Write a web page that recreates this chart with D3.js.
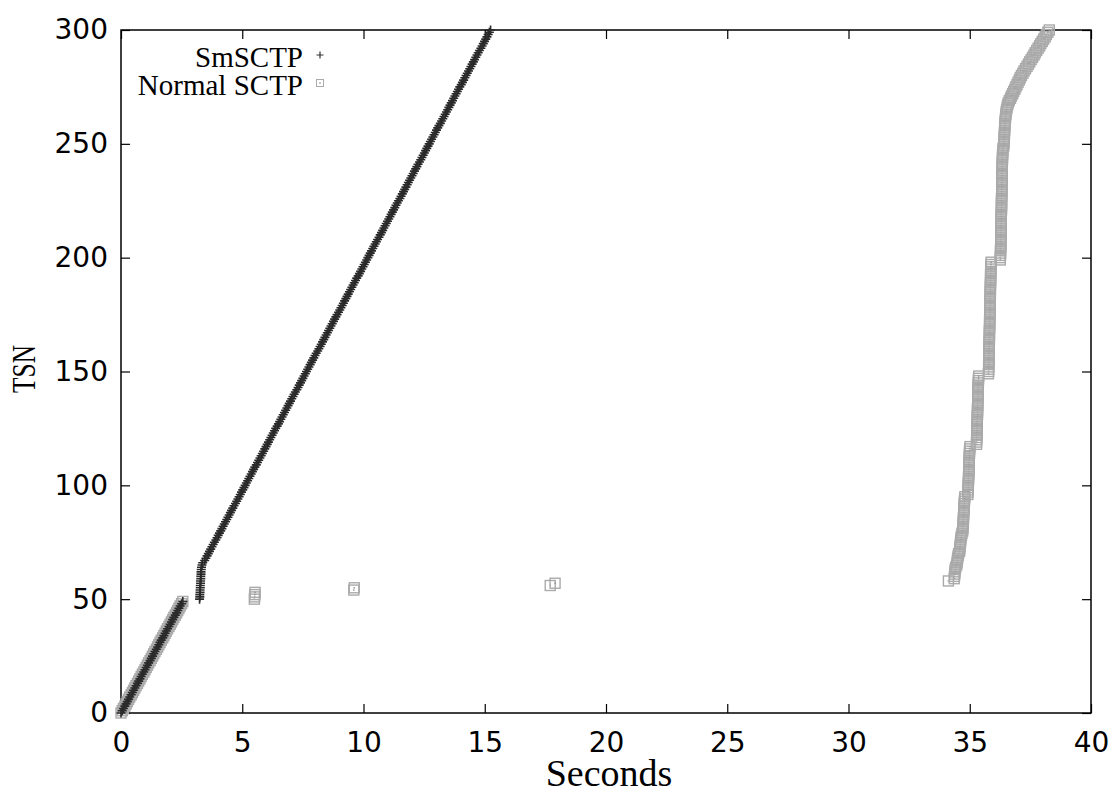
<!DOCTYPE html>
<html>
<head>
<meta charset="utf-8">
<script src="https://cdn.jsdelivr.net/npm/d3@7"></script>
<style>
  body { margin: 0; background: #fff; }
  svg { display: block; }
  .tick text { font-family: "DejaVu Sans", sans-serif; font-size: 28px; fill: #000; }
  .tick line { stroke: #000; stroke-width: 1.2; }
</style>
</head>
<body>
<div class="wrapper"></div>
<script>
// tick labels
var secondsTicks = [0, 5, 10, 15, 20, 25, 30, 35, 40];
var tsnTicks = [0, 50, 100, 150, 200, 250, 300];
var seriesNames = ["SmSCTP", "Normal SCTP"];

// send time (s) of each TSN, array index = TSN
var smTime = [
  0.00,0.05,0.10,0.16,0.21,0.26,0.31,0.36,0.42,0.47,
  0.52,0.57,0.62,0.68,0.73,0.78,0.83,0.88,0.94,0.99,
  1.04,1.09,1.14,1.20,1.25,1.30,1.35,1.40,1.46,1.51,
  1.56,1.61,1.66,1.72,1.77,1.82,1.87,1.92,1.98,2.03,
  2.08,2.13,2.18,2.24,2.29,2.34,2.39,2.44,2.50,2.55,
  3.24,3.25,3.25,3.26,3.26,3.27,3.27,3.28,3.28,3.29,
  3.29,3.30,3.30,3.31,3.32,3.34,3.37,
  3.45,3.50,3.55,3.60,3.65,3.70,3.75,3.80,3.85,3.91,
  3.96,4.01,4.06,4.11,4.16,4.21,4.26,4.31,4.36,4.41,
  4.46,4.51,4.56,4.61,4.66,4.72,4.77,4.82,4.87,4.92,
  4.97,5.02,5.07,5.12,5.17,5.22,5.27,5.32,5.37,5.42,
  5.47,5.52,5.58,5.63,5.68,5.73,5.78,5.83,5.88,5.93,
  5.98,6.03,6.08,6.13,6.18,6.23,6.28,6.33,6.38,6.44,
  6.49,6.54,6.59,6.64,6.69,6.74,6.79,6.84,6.89,6.94,
  6.99,7.04,7.09,7.14,7.19,7.25,7.30,7.35,7.40,7.45,
  7.50,7.55,7.60,7.65,7.70,7.75,7.80,7.85,7.90,7.95,
  8.00,8.05,8.11,8.16,8.21,8.26,8.31,8.36,8.41,8.46,
  8.51,8.56,8.61,8.66,8.71,8.76,8.81,8.86,8.91,8.97,
  9.02,9.07,9.12,9.17,9.22,9.27,9.32,9.37,9.42,9.47,
  9.52,9.57,9.62,9.67,9.72,9.78,9.83,9.88,9.93,9.98,
  10.03,10.08,10.13,10.18,10.23,10.28,10.33,10.38,10.43,10.48,
  10.53,10.58,10.64,10.69,10.74,10.79,10.84,10.89,10.94,10.99,
  11.04,11.09,11.14,11.19,11.24,11.29,11.34,11.39,11.44,11.50,
  11.55,11.60,11.65,11.70,11.75,11.80,11.85,11.90,11.95,12.00,
  12.05,12.10,12.15,12.20,12.25,12.31,12.36,12.41,12.46,12.51,
  12.56,12.61,12.66,12.71,12.76,12.81,12.86,12.91,12.96,13.01,
  13.06,13.11,13.17,13.22,13.27,13.32,13.37,13.42,13.47,13.52,
  13.57,13.62,13.67,13.72,13.77,13.82,13.87,13.92,13.97,14.03,
  14.08,14.13,14.18,14.23,14.28,14.33,14.38,14.43,14.48,14.53,
  14.58,14.63,14.68,14.73,14.78,14.84,14.89,14.94,14.99,15.04,
  15.09,15.14,15.19,15.24
];

var normalTime = [
  0.00,0.05,0.10,0.16,0.21,0.26,0.31,0.36,0.42,0.47,
  0.52,0.57,0.62,0.68,0.73,0.78,0.83,0.88,0.94,0.99,
  1.04,1.09,1.14,1.20,1.25,1.30,1.35,1.40,1.46,1.51,
  1.56,1.61,1.66,1.72,1.77,1.82,1.87,1.92,1.98,2.03,
  2.08,2.13,2.18,2.24,2.29,2.34,2.39,2.44,2.50,2.55,
  5.50,5.51,5.52,5.53,
  9.60,9.62,
  17.70,17.90,
  34.12,
  34.36,34.37,34.38,34.39,34.40,34.42,
  34.46,34.48,34.49,34.50,34.52,34.54,
  34.58,34.59,34.60,34.61,34.62,34.63,34.64,34.66,34.68,
  34.71,34.72,34.72,34.73,34.73,34.74,34.74,34.75,34.75,34.76,
  34.76,34.77,34.77,34.78,34.79,34.80,
  34.92,34.93,34.93,34.94,34.94,34.94,34.95,34.95,34.95,34.96,
  34.96,34.96,34.97,34.97,34.97,34.98,34.98,34.98,34.99,34.99,
  35.00,35.01,
  35.28,35.28,35.29,35.29,35.29,35.30,35.30,35.30,35.30,35.31,
  35.31,35.31,35.31,35.32,35.32,35.32,35.32,35.33,35.33,35.33,
  35.33,35.34,35.34,35.34,35.34,35.35,35.35,35.35,35.36,35.36,
  35.37,
  35.77,35.78,35.78,35.78,35.78,35.79,35.79,35.79,35.79,35.79,
  35.80,35.80,35.80,35.80,35.80,35.81,35.81,35.81,35.81,35.81,
  35.82,35.82,35.82,35.82,35.82,35.83,35.83,35.83,35.83,35.83,
  35.84,35.84,35.84,35.84,35.84,35.85,35.85,35.85,35.85,35.85,
  35.86,35.86,35.86,35.86,35.86,35.87,35.87,35.87,35.88,35.88,
  36.26,36.26,36.27,36.27,36.27,36.27,36.28,36.28,36.28,36.28,
  36.28,36.29,36.29,36.29,36.29,36.29,36.30,36.30,36.30,36.30,
  36.30,36.30,36.31,36.31,36.31,36.31,36.31,36.31,36.32,36.32,
  36.32,36.32,36.32,36.32,36.33,36.33,36.33,36.33,36.33,36.34,
  36.34,36.34,36.34,36.34,36.35,36.35,36.35,36.36,36.36,36.37,
  36.40,36.41,36.41,36.42,36.42,36.43,36.43,36.44,36.44,36.45,
  36.45,36.46,36.47,36.48,36.49,36.50,36.52,36.54,36.56,36.59,
  36.63,36.68,36.72,36.77,36.81,36.86,36.90,36.95,36.99,37.04,
  37.08,37.13,37.19,37.24,37.30,37.36,37.42,37.47,37.53,37.59,
  37.65,37.70,37.76,37.82,37.88,37.93,37.99,38.05,38.11,38.16,
  38.22,38.28
];

var svgW = 1113, svgH = 795;
var margin = {top: 30, right: 22, bottom: 82, left: 121};
var width = svgW - margin.left - margin.right,
    height = svgH - margin.top - margin.bottom;

var svg = d3.select(".wrapper").append("svg")
    .attr("width", svgW)
    .attr("height", svgH);
var g = svg.append("g").attr("transform", "translate(" + margin.left + "," + margin.top + ")");

var x = d3.scaleLinear().domain([0, 40]).range([0, width]);
var y = d3.scaleLinear().domain([0, 300]).range([height, 0]);

// axes, gnuplot style: ticks point inward and are mirrored
g.append("g")
  .attr("transform", "translate(0," + height + ")")
  .call(d3.axisBottom(x).tickValues(secondsTicks).tickSize(-9).tickSizeOuter(0).tickPadding(19))
  .call(function(a) { a.select(".domain").remove(); });
g.append("g")
  .call(d3.axisLeft(y).tickValues(tsnTicks).tickSize(-9).tickSizeOuter(0).tickPadding(13))
  .call(function(a) { a.select(".domain").remove(); });
g.append("g")
  .call(d3.axisTop(x).tickValues(secondsTicks).tickSize(-9).tickSizeOuter(0).tickFormat(""))
  .call(function(a) { a.select(".domain").remove(); });
g.append("g")
  .attr("transform", "translate(" + width + ",0)")
  .call(d3.axisRight(y).tickValues(tsnTicks).tickSize(-9).tickSizeOuter(0).tickFormat(""))
  .call(function(a) { a.select(".domain").remove(); });

g.append("rect")
  .attr("width", width)
  .attr("height", height)
  .attr("fill", "none")
  .attr("stroke", "#000")
  .attr("stroke-width", 1.5);

var plusPath = function(s) { return "M" + (-s) + ",0H" + s + "M0," + (-s) + "V" + s; };

function drawSquare(sel, s, w) {
  sel.append("rect")
    .attr("x", -s).attr("y", -s)
    .attr("width", 2 * s).attr("height", 2 * s)
    .attr("fill", "none")
    .attr("stroke", "#aaa")
    .attr("stroke-width", w);
  sel.append("rect")
    .attr("x", -0.75).attr("y", -0.75)
    .attr("width", 1.5).attr("height", 1.5)
    .attr("fill", "#999");
}

// Normal SCTP (grey boxes)
var normalPts = g.append("g").selectAll("g")
  .data(normalTime)
  .enter().append("g")
    .attr("transform", function(d, i) { return "translate(" + x(d) + "," + y(i) + ")"; });
drawSquare(normalPts, 5, 1.4);

// SmSCTP (dark crosses)
g.append("g").selectAll("path")
  .data(smTime)
  .enter().append("path")
    .attr("transform", function(d, i) { return "translate(" + x(d) + "," + y(i) + ")"; })
    .attr("d", plusPath(4.5))
    .attr("stroke", "#2a2a2a")
    .attr("stroke-width", 1.6)
    .attr("fill", "none");

// legend
var legend = svg.append("g")
  .attr("font-family", "'Liberation Serif', 'Times New Roman', serif")
  .attr("font-size", 29)
  .attr("text-anchor", "end");
legend.selectAll("text")
  .data(seriesNames)
  .enter().append("text")
    .attr("x", 303)
    .attr("y", function(d, i) { return 67 + i * 28; })
    .text(function(d) { return d; });
legend.append("path")
  .attr("transform", "translate(320,55)")
  .attr("d", plusPath(3.5))
  .attr("stroke", "#333")
  .attr("stroke-width", 1.2);
drawSquare(legend.append("g").attr("transform", "translate(320,83)"), 3.5, 1);

// axis titles
svg.append("text")
  .attr("x", 609)
  .attr("y", 786)
  .attr("text-anchor", "middle")
  .attr("font-family", "'Liberation Serif', 'Times New Roman', serif")
  .attr("font-size", 38)
  .text("Seconds");
svg.append("text")
  .attr("transform", "translate(35,369) rotate(-90)")
  .attr("text-anchor", "middle")
  .attr("font-family", "'Liberation Serif', 'Times New Roman', serif")
  .attr("font-size", 33)
  .attr("textLength", 48)
  .attr("lengthAdjust", "spacingAndGlyphs")
  .text("TSN");
</script>
</body>
</html>
